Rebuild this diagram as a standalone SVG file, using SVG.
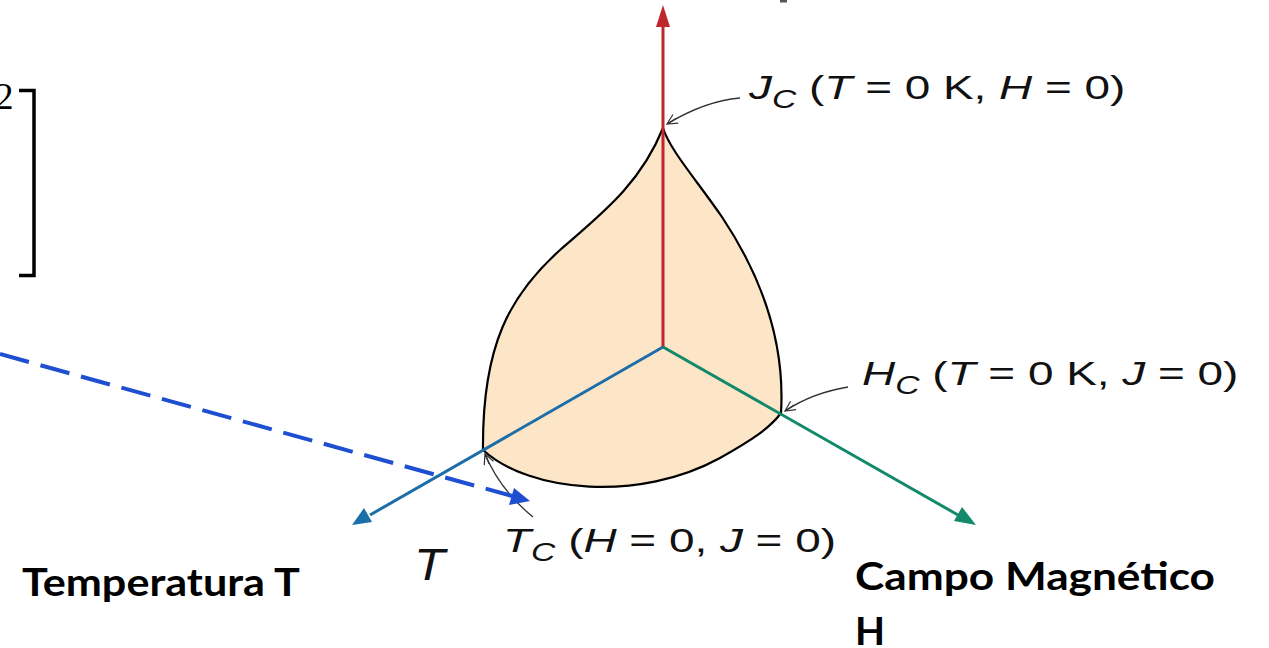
<svg xmlns="http://www.w3.org/2000/svg" width="1269" height="648" viewBox="0 0 1269 648">
<style>
.lbl{font-family:"Liberation Sans",Arial,sans-serif;font-size:34px;fill:#111}
.it{font-style:italic}
.sub{font-size:25px}
.bold{font-family:Lato,"Open Sans",sans-serif;font-weight:bold;font-size:39px;fill:#000}
.lead{fill:none;stroke:#333;stroke-width:1.3}
.axis{fill:none;stroke-width:3}
</style>
<defs>
<marker id="open" viewBox="0 0 12 12" refX="11" refY="6" markerWidth="12" markerHeight="12" markerUnits="userSpaceOnUse" orient="auto">
<path d="M1,1 L11,6 L1,11 M11,6 L0,6" fill="none" stroke="#333" stroke-width="1.2"/>
</marker>
</defs>
<rect x="780" y="0" width="7" height="2.5" fill="#555"/>
<g id="bracket">
<text x="-5" y="109" font-family="Liberation Serif,serif" font-size="37" fill="#000">2</text>
<path d="M19,90.5 H34 V275.5 H19" fill="none" stroke="#000" stroke-width="3.5"/>
</g>
<g id="surface">
<path d="M663,128 C640,185 600,215 560,250 C510,295 482,345 483,450 C530,493 640,502 720,458 C752,440 770,428 781,413 C786,330 752,262 722,217 C695,178 670,150 663,128 Z" fill="#fde5c8" stroke="#000" stroke-width="2.2"/>
</g>
<g id="axes">
<line class="axis" x1="663" y1="347" x2="663" y2="26" stroke="#c0262d" stroke-width="3.4"/>
<path d="M663,5 L656,27 L670,27 Z" fill="#c0262d"/>
<line class="axis" x1="663" y1="347" x2="370" y2="515" stroke="#1b6ea8"/>
<path d="M352,525 L364,508 L372,522 Z" fill="#1b6ea8"/>
<line class="axis" x1="663" y1="347" x2="958" y2="515" stroke="#12896a"/>
<path d="M976,525 L954,521 L962,507 Z" fill="#12896a"/>
</g>
<g id="connectors">
<path class="lead" d="M740,98 Q705,101 667,124" marker-end="url(#open)"/>
<path class="lead" d="M848,387 Q812,393 785,411" marker-end="url(#open)"/>
<path class="lead" d="M533,517 Q500,490 485,454" marker-end="url(#open)"/>
<line x1="0" y1="354" x2="512" y2="496" stroke="#1d4fd0" stroke-width="4" stroke-dasharray="30,12"/>
<path d="M530,501 L509,505 L514,488 Z" fill="#1d4fd0"/>
</g>
<g id="label-jc">
<text class="lbl" transform="translate(749,99) scale(1.35,1)"><tspan class="it">J</tspan><tspan class="sub it" dy="9">C</tspan><tspan dy="-9" xml:space="preserve"> (</tspan><tspan class="it">T</tspan> = 0 K, <tspan class="it">H</tspan> = 0)</text>
</g>
<g id="label-hc">
<text class="lbl" transform="translate(862,385) scale(1.35,1)"><tspan class="it">H</tspan><tspan class="sub it" dy="9">C</tspan><tspan dy="-9" xml:space="preserve"> (</tspan><tspan class="it">T</tspan> = 0 K, <tspan class="it">J</tspan> = 0)</text>
</g>
<g id="label-tc">
<text class="lbl" transform="translate(503,552) scale(1.35,1)"><tspan class="it">T</tspan><tspan class="sub it" dy="9">C</tspan><tspan dy="-9" xml:space="preserve"> (</tspan><tspan class="it">H</tspan> = 0, <tspan class="it">J</tspan> = 0)</text>
</g>
<g id="label-t">
<text class="lbl it" font-size="44" style="font-size:44px" transform="translate(414,580) scale(1.15,1)">T</text>
</g>
<g id="label-temp">
<text class="bold" x="22" y="596" textLength="278" lengthAdjust="spacingAndGlyphs">Temperatura T</text>
</g>
<g id="label-campo">
<text class="bold" x="855" y="590" textLength="360" lengthAdjust="spacingAndGlyphs">Campo Magnético</text>
<text class="bold" x="855" y="645">H</text>
</g>
</svg>
